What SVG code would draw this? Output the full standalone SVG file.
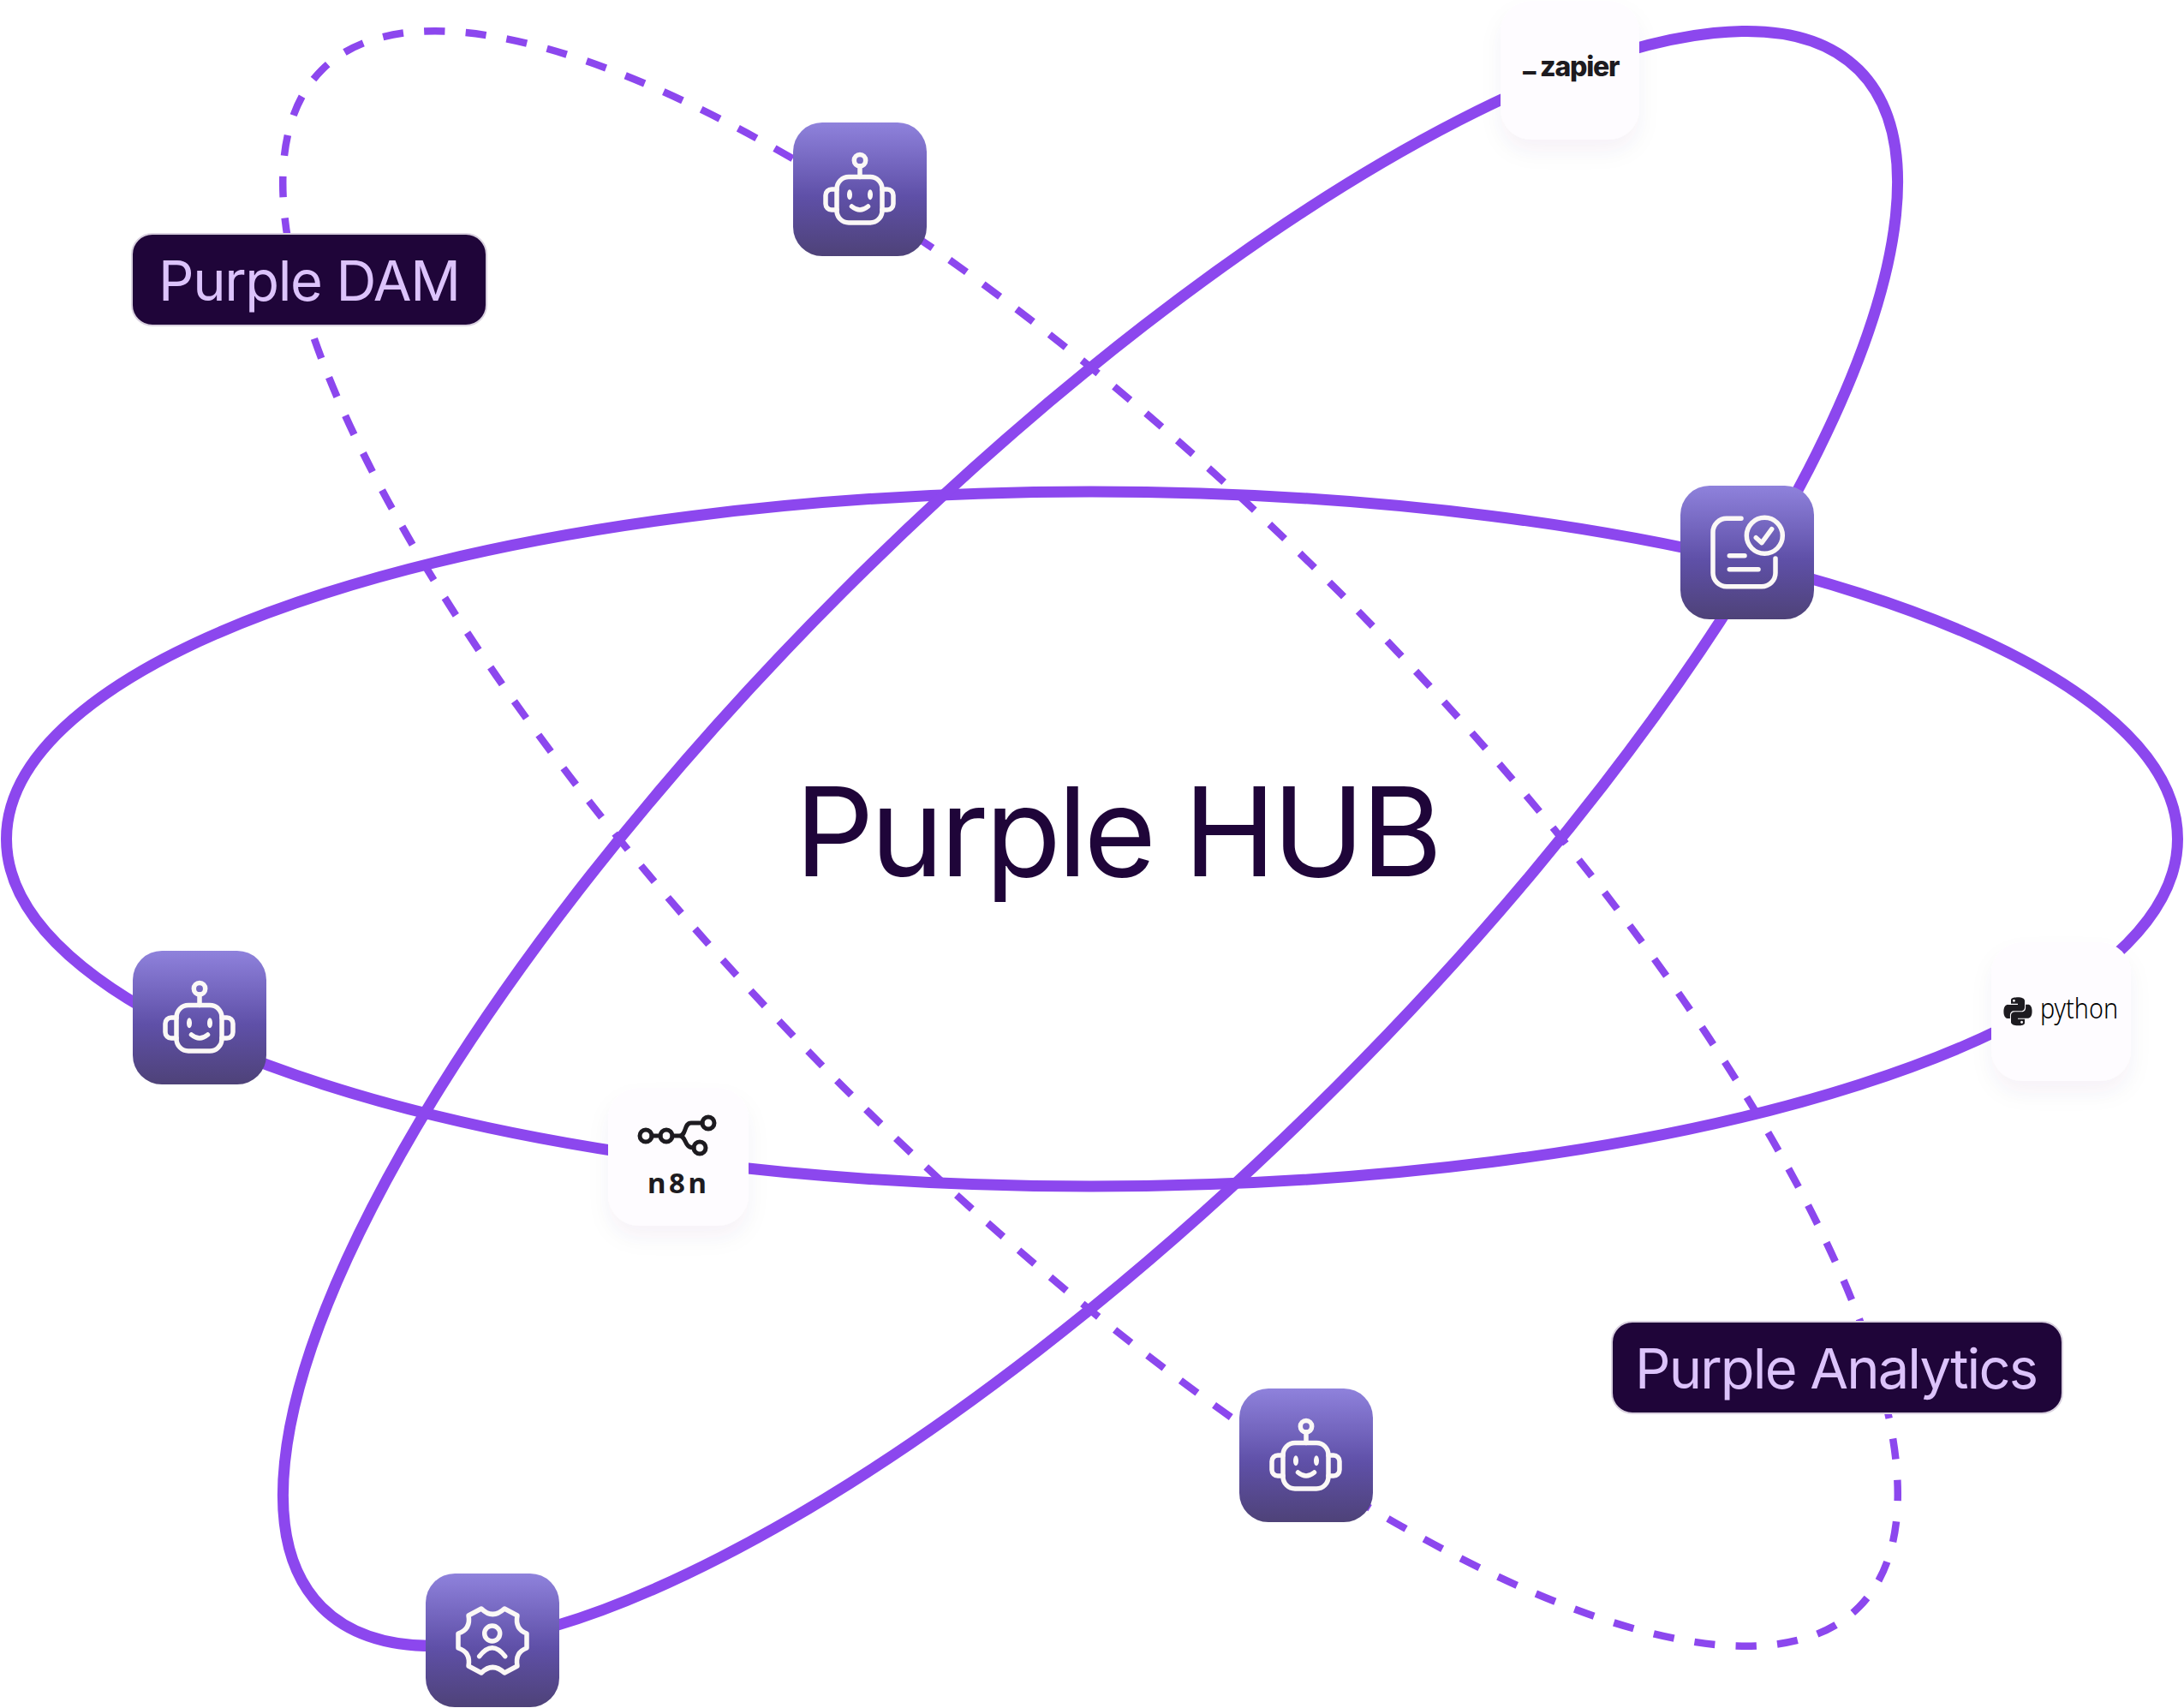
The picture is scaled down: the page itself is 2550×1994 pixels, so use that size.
<svg xmlns="http://www.w3.org/2000/svg" width="2550" height="1994" viewBox="0 0 2550 1994">
<style>
.orbit{fill:none;stroke:#8c47ee;stroke-width:13}
.dash{fill:none;stroke:#8c47ee;stroke-width:8.500;stroke-dasharray:.5 .5;stroke-dashoffset:.3}
.ic{fill:none;stroke:#fbf8f6;stroke-width:5.500;stroke-linecap:round;stroke-linejoin:round}
.icf{fill:#fbf8f6}
.lab{fill:#1f0539;stroke:#d9d1df;stroke-width:2}
.labt{font-family:"Inter","Liberation Sans",sans-serif;font-size:65px;fill:#dcc3fb}
.title{font-family:"Inter","Liberation Sans",sans-serif;font-size:145px;font-weight:420;fill:#1f0539}
.white{fill:#fefcff}
.mono{fill:none;stroke:#1d1b20;stroke-width:5;stroke-linecap:round;stroke-linejoin:round}
</style>
<defs>
<linearGradient id="tileg" x1="0" y1="0" x2="0" y2="1">
<stop offset="0" stop-color="#8f82dc"/><stop offset=".55" stop-color="#5f50a8"/><stop offset="1" stop-color="#4e4278"/>
</linearGradient>
<filter id="sh" x="-30%" y="-30%" width="160%" height="170%"><feDropShadow dx="0" dy="14" stdDeviation="12" flood-color="#3a2a60" flood-opacity=".05"/></filter>
<rect id="tile" width="156" height="156" rx="34" fill="url(#tileg)"/>
<g id="robot">
<circle class="ic" cx="78" cy="44.300" r="6.700"/>
<path class="ic" d="M78 51V63.500"/>
<rect class="ic" x="51" y="63.500" width="53" height="53.500" rx="14"/>
<path class="ic" d="M51 78H45a7 7 0 0 0-7 7v10a7 7 0 0 0 7 7h6M104 78h6a7 7 0 0 1 7 7v10a7 7 0 0 1-7 7h-6"/>
<ellipse class="icf" cx="66" cy="84.300" rx="3" ry="6"/>
<ellipse class="icf" cx="90" cy="84.300" rx="3" ry="6"/>
<path class="ic" d="M68.500 98Q78 106 87.500 98"/>
</g>
</defs>
<rect width="2550" height="1994" fill="#ffffff"/>
<g id="connectors">
<ellipse class="dash" pathLength="116" cx="1273" cy="979" rx="1269" ry="409" transform="rotate(45 1273 979)"/>
<ellipse class="orbit" cx="1275" cy="979.500" rx="1267.500" ry="405.500"/>
<ellipse class="orbit" cx="1273" cy="979" rx="1269" ry="408" transform="rotate(-45 1273 979)"/>
</g>
<g id="title"><text class="title" x="928" y="1023" textLength="756">Purple HUB</text></g>
<g id="node-purple-dam">
<rect class="lab" x="154" y="273" width="414" height="107" rx="24"/>
<text class="labt" x="185" y="351" textLength="353">Purple DAM</text>
</g>
<g id="node-purple-analytics">
<rect class="lab" x="1882" y="1543" width="526" height="107" rx="24"/>
<text class="labt" x="1909" y="1621" textLength="471">Purple Analytics</text>
</g>
<g id="node-robot-top" transform="translate(926 143)"><use href="#tile"/><use href="#robot"/></g>
<g id="node-robot-left" transform="translate(155 1110)"><use href="#tile"/><use href="#robot"/></g>
<g id="node-robot-bottom" transform="translate(1447 1621)"><use href="#tile"/><use href="#robot"/></g>
<g id="node-doc" transform="translate(1962 567)"><use href="#tile"/>
<path class="ic" d="M71 38.300H54a16 16 0 0 0-16 16V101.700a16 16 0 0 0 16 16H95a16 16 0 0 0 16-16V85"/>
<circle class="ic" cx="98.300" cy="58.300" r="21"/>
<path class="ic" d="M88.300 60.700L95 66.700L106.700 50.700M57.300 81.700H75M57.300 97.700H91"/>
</g>
<g id="node-gear" transform="translate(497 1837)"><use href="#tile"/>
<path class="ic" d="M65 41Q78 54 92 41L107 49Q104 65 118 70V87Q104 92 107 108L92 116Q78 103 65 116L50 108Q53 92 38 87V70Q53 65 50 49Z"/>
<circle class="ic" cx="77.700" cy="70" r="9"/>
<path class="ic" d="M62.700 96.700Q77.700 76.700 92.700 96.700"/>
</g>
<g id="node-zapier">
<rect class="white" x="1752" y="1" width="162" height="162" rx="36" filter="url(#sh)"/>
<text font-family="Inter,'Liberation Sans',sans-serif" font-weight="800" font-size="32" fill="#1d1b20" letter-spacing="-1.200"><tspan x="1778" y="83">_</tspan><tspan x="1798" y="89">zapier</tspan></text>
</g>
<g id="node-python">
<rect class="white" x="2325" y="1100" width="163" height="162" rx="36" filter="url(#sh)"/>
<path transform="translate(2339.500 1164.300) scale(1.375)" fill="#1d1b20" d="M14.250.18l.9.2.73.26.59.3.45.32.34.34.25.34.16.33.1.3.04.26.02.2-.01.13V8.500l-.05.63-.13.55-.21.46-.26.38-.3.31-.33.25-.35.19-.35.14-.33.1-.3.07-.26.04-.21.02H8.770l-.69.05-.59.14-.5.22-.41.27-.33.32-.27.35-.2.36-.15.37-.1.35-.07.32-.04.27-.02.21v3.060H3.170l-.21-.03-.28-.07-.32-.12-.35-.18-.36-.26-.36-.36-.35-.46-.32-.59-.28-.73-.21-.88-.14-1.050-.05-1.230.06-1.220.16-1.040.24-.87.32-.71.36-.57.4-.44.42-.33.42-.24.4-.16.36-.1.32-.05.24-.01h.16l.06.01h8.160v-.83H6.180l-.01-2.750-.02-.37.05-.34.11-.31.17-.28.25-.26.31-.23.38-.2.44-.18.51-.15.58-.12.64-.1.71-.06.77-.04.84-.02 1.270.05zm-6.300 1.980l-.23.33-.08.41.08.41.23.34.33.22.41.09.41-.09.33-.22.23-.34.08-.41-.08-.41-.23-.33-.33-.22-.41-.09-.41.09zm13.090 3.950l.28.06.32.12.35.18.36.27.36.35.35.47.32.59.28.73.21.88.14 1.040.05 1.230-.06 1.230-.16 1.040-.24.86-.32.71-.36.57-.4.45-.42.33-.42.24-.4.16-.36.09-.32.05-.24.02-.16-.01h-8.220v.82h5.840l.01 2.760.02.36-.05.34-.11.31-.17.29-.25.25-.31.24-.38.2-.44.17-.51.15-.58.13-.64.09-.71.07-.77.04-.84.01-1.270-.04-1.070-.14-.9-.2-.73-.25-.59-.3-.45-.33-.34-.34-.25-.34-.16-.33-.1-.3-.04-.25-.02-.2.01-.13v-5.340l.05-.64.13-.54.21-.46.26-.38.3-.32.33-.24.35-.2.35-.14.33-.1.3-.06.26-.04.21-.02.13-.01h5.840l.69-.05.59-.14.5-.21.41-.28.33-.32.27-.35.2-.36.15-.36.1-.35.07-.32.04-.28.02-.21V6.070h2.090l.14.01zm-6.470 14.250l-.23.33-.08.41.08.41.23.33.33.23.41.08.41-.08.33-.23.23-.33.08-.41-.08-.41-.23-.33-.33-.23-.41-.08-.41.08z"/>
<text x="2382" y="1189" font-family="'Noto Sans','Liberation Sans',sans-serif" font-weight="300" font-size="33" fill="#000000" textLength="91" lengthAdjust="spacingAndGlyphs">python</text>
</g>
<g id="node-n8n">
<rect class="white" x="710" y="1270" width="164" height="161" rx="36" filter="url(#sh)"/>
<circle class="mono" cx="754" cy="1326" r="7"/>
<circle class="mono" cx="778" cy="1326" r="7"/>
<circle class="mono" cx="827" cy="1311" r="7"/>
<circle class="mono" cx="817" cy="1340" r="7"/>
<path class="mono" d="M761 1326H771M785 1326H793C802 1326 798 1311 807 1311H820M793 1326C802 1326 798 1340 810 1340"/>
<text x="756" y="1393" font-family="'Noto Sans','Liberation Sans',sans-serif" font-weight="700" font-size="33" fill="#1d1b20" textLength="69">n8n</text>
</g>
</svg>
